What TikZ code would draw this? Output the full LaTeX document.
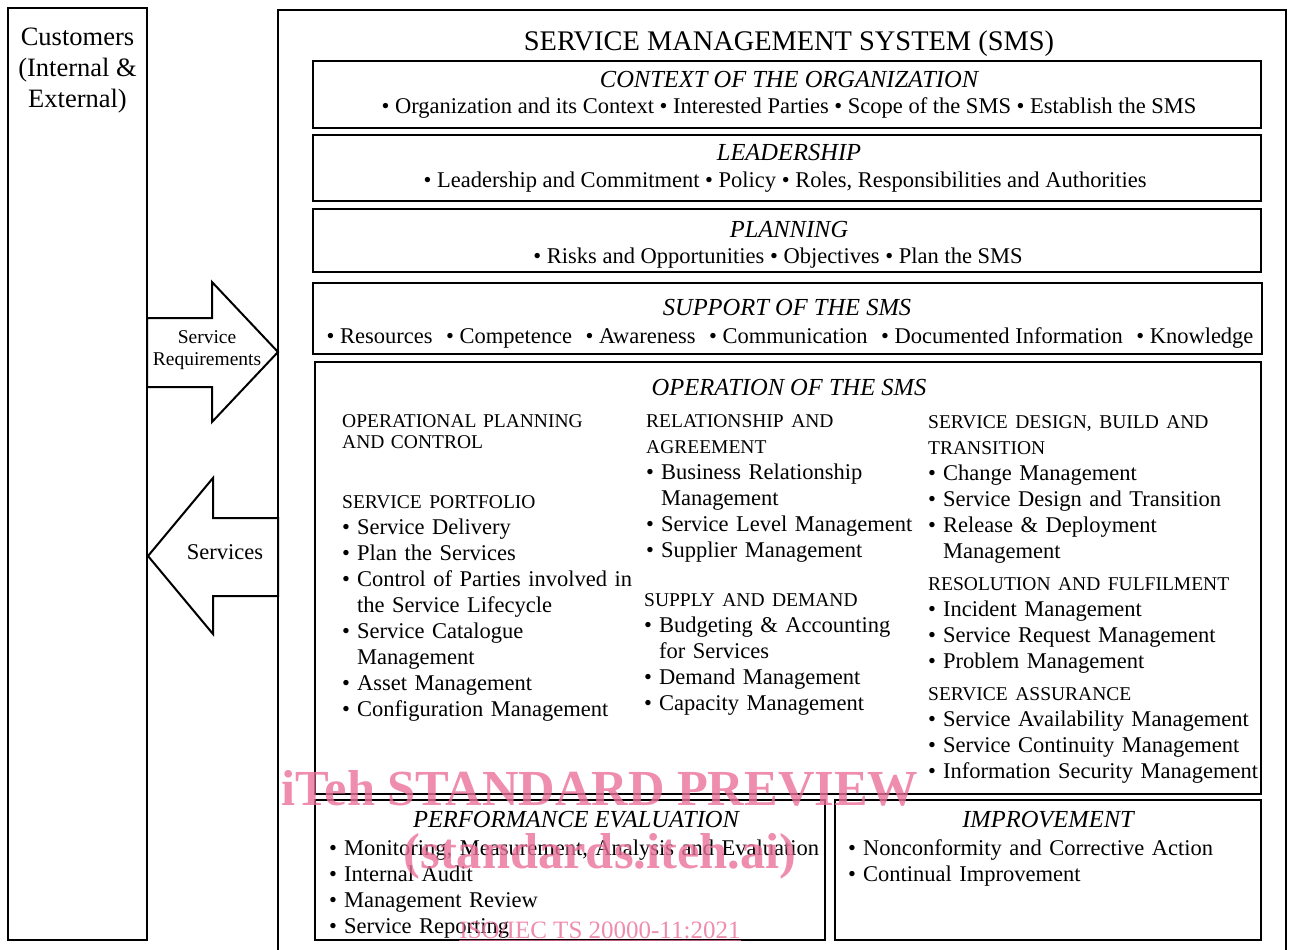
\documentclass[tikz,border=0pt]{standalone}
\usepackage{fontspec}
\setmainfont{Liberation Serif}
\usetikzlibrary{positioning}
\definecolor{wmpink}{RGB}{234,112,152}
\newcommand\bitem[1]{\hyphenpenalty=10000 \hangindent=15pt\hangafter=1\noindent\makebox[15pt][l]{\textbullet}#1\par}
\newcommand\colhead[1]{\noindent{\fontsize{19.5}{26}\selectfont #1\par}}
\newcommand\gap{\hspace{13.5pt}}
\tikzset{
  frame/.style={draw, line width=2.2pt, inner sep=0pt},
  secbox/.style={draw, line width=2.8pt, inner sep=0pt},
  blockarrow/.style={draw, fill=white, line width=2pt, line join=miter},
  head/.style={font=\fontsize{24.5}{28}\selectfont\itshape, anchor=base, inner sep=0pt},
  body/.style={font=\fontsize{22.5}{26}\selectfont, anchor=base, inner sep=0pt},
  col/.style={font=\fontsize{22.5}{26}\selectfont, anchor=north west, inner sep=0pt, text width=400pt, align=left},
  wmtext/.style={text=wmpink, opacity=.8, inner sep=0pt, anchor=base}
}
\begin{document}
\begin{tikzpicture}[x=1pt,y=-1pt]
\useasboundingbox (0,0) rectangle (1290,950);
% customers and SMS frames
\node[frame, minimum width=139pt, minimum height=932pt] (cust) at (77.5,474) {};
\node[frame, minimum width=1008pt, minimum height=950pt] (sms) at (782,485) {};
\node[font=\fontsize{26.5}{31}\selectfont, align=center, anchor=north, inner sep=0pt] (custtxt) at (77.5,28) {Customers\\(Internal \&\\External)};
\node[font=\fontsize{28.4}{32}\selectfont, anchor=base, inner sep=0pt] (title) at (789,51) {SERVICE MANAGEMENT SYSTEM (SMS)};

% block arrows between customers and SMS
\draw[blockarrow] (147,318) -- (212,318) -- (212,282) -- (278,352) -- (212,422) -- (212,387) -- (147,387) -- cycle;
\node[font=\fontsize{19.5}{22}\selectfont, align=center, anchor=north, inner sep=0pt] (req) at (207,330) {Service\\Requirements};
\draw[blockarrow] (278,518) -- (213,518) -- (213,478) -- (148,556) -- (213,634) -- (213,596) -- (278,596) -- cycle;
\node[body] (srv) at (225,559) {Services};

% clause boxes
\node[secbox, minimum width=948pt, minimum height=67pt] (ctx) at (787,94.5) {};
\node[head] (ctxh) at (789,87) {CONTEXT OF THE ORGANIZATION};
\node[body] (ctxb) at (789,113) {\textbullet\ Organization and its Context \textbullet\ Interested Parties \textbullet\ Scope of the SMS \textbullet\ Establish the SMS};

\node[secbox, minimum width=948pt, minimum height=66pt] (lead) at (787,168) {};
\node[head] (leadh) at (789,160) {LEADERSHIP};
\node[body] (leadb) at (785,187) {\textbullet\ Leadership and Commitment \textbullet\ Policy \textbullet\ Roles, Responsibilities and Authorities};

\node[secbox, minimum width=948pt, minimum height=63pt] (plan) at (787,240.5) {};
\node[head] (planh) at (789,237) {PLANNING};
\node[body] (planb) at (778,263) {\textbullet\ Risks and Opportunities \textbullet\ Objectives \textbullet\ Plan the SMS};

\node[secbox, minimum width=949pt, minimum height=71pt] (supp) at (787.5,318.5) {};
\node[head] (supph) at (787,315) {SUPPORT OF THE SMS};
\node[body] (suppb) at (790,343) {\textbullet\ Resources\gap\textbullet\ Competence\gap\textbullet\ Awareness\gap\textbullet\ Communication\gap\textbullet\ Documented Information\gap\textbullet\ Knowledge};

% operation
\node[secbox, minimum width=946pt, minimum height=432pt] (oper) at (788,578) {};
\node[head] (operh) at (789,395) {OPERATION OF THE SMS};
\node[col, font=\fontsize{19.5}{21}\selectfont] (opc) at (342,414) {OPERATIONAL PLANNING\\AND CONTROL};
\node[col] (port) at (342,495) {\colhead{SERVICE PORTFOLIO}
  \bitem{Service Delivery}
  \bitem{Plan the Services}
  \bitem{Control of Parties involved in\newline the Service Lifecycle}
  \bitem{Service Catalogue\newline Management}
  \bitem{Asset Management}
  \bitem{Configuration Management}};
\node[col] (rel) at (646,414) {\colhead{RELATIONSHIP AND\newline AGREEMENT}
  \bitem{Business Relationship\newline Management}
  \bitem{Service Level Management}
  \bitem{Supplier Management}};
\node[col] (sup) at (644,593) {\colhead{SUPPLY AND DEMAND}
  \bitem{Budgeting \& Accounting\newline for Services}
  \bitem{Demand Management}
  \bitem{Capacity Management}};
\node[col] (des) at (928,415) {\colhead{SERVICE DESIGN, BUILD AND\newline TRANSITION}
  \bitem{Change Management}
  \bitem{Service Design and Transition}
  \bitem{Release \& Deployment\newline Management}};
\node[col] (res) at (928,577) {\colhead{RESOLUTION AND FULFILMENT}
  \bitem{Incident Management}
  \bitem{Service Request Management}
  \bitem{Problem Management}};
\node[col] (ass) at (928,687) {\colhead{SERVICE ASSURANCE}
  \bitem{Service Availability Management}
  \bitem{Service Continuity Management}
  \bitem{Information Security Management}};

% performance evaluation and improvement
\node[secbox, minimum width=510pt, minimum height=140pt] (perf) at (570,870) {};
\node[head] (perfh) at (576,827) {PERFORMANCE EVALUATION};
\node[col, text width=495pt] (perfb) at (329,840) {\bitem{Monitoring, Measurement, Analysis and Evaluation}
  \bitem{Internal Audit}
  \bitem{Management Review}
  \bitem{Service Reporting}};
\node[secbox, minimum width=426pt, minimum height=140pt] (impr) at (1048,870) {};
\node[head] (imprh) at (1048,827) {IMPROVEMENT};
\node[col] (imprb) at (848,839) {\bitem{Nonconformity and Corrective Action}
  \bitem{Continual Improvement}};

% watermark
\node[wmtext, font=\fontsize{50.5}{52}\selectfont\bfseries] (wm1) at (600,805) {iTeh STANDARD PREVIEW};
\node[wmtext, font=\fontsize{50.5}{52}\selectfont\bfseries] (wm2) at (600,868) {(standards.iteh.ai)};
\node[wmtext, font=\fontsize{25}{26}\selectfont] (wm3) at (600,938) {\underline{ISO/IEC TS 20000-11:2021}};
\end{tikzpicture}
\end{document}
